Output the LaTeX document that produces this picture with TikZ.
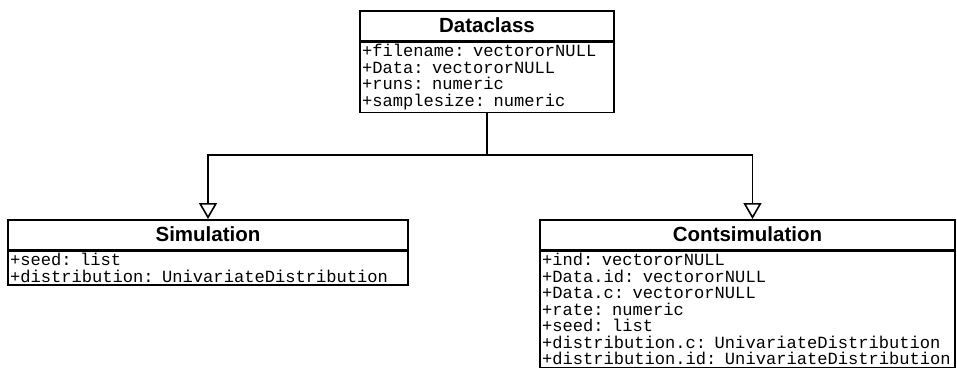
\documentclass[tikz,border=0pt]{standalone}
\usepackage{fontspec}
\usetikzlibrary{arrows.meta}
\newfontfamily\headfont{Liberation Sans}
\newfontfamily\attrfont{Liberation Mono}

\begin{document}
\begin{tikzpicture}[x=1pt, y=1pt, line width=1.6pt,
    class head/.style={draw, anchor=north, minimum height=29.5pt, inner sep=0pt,
        font=\headfont\bfseries\fontsize{20.5}{24}\selectfont},
    class body/.style={draw, anchor=north, align=left, inner xsep=2pt, inner ysep=2.5pt,
        font=\attrfont\fontsize{17.1}{16.5}\selectfont},
    inherits/.style={-{Triangle[open, length=16pt, width=18pt]}, line width=1.6pt}]

    \useasboundingbox (0,0) rectangle (957,-373);

    \node[class head, minimum width=254pt] at (487, -10) (dataclass) {Dataclass};
    \node[class body, text width=250pt] at (dataclass.south) (dataclass-attr)
        {+filename: vectororNULL\\+Data: vectororNULL\\+runs: numeric\\+samplesize: numeric};

    \node[class head, minimum width=400pt] at (208, -219) (sim) {Simulation};
    \node[class body, text width=396pt] at (sim.south) (sim-attr)
        {+seed: list\\+distribution: UnivariateDistribution};

    \node[class head, minimum width=415pt] at (747.5, -219) (cont) {Contsimulation};
    \node[class body, text width=411pt] at (cont.south) (cont-attr)
        {+ind: vectororNULL\\+Data.id: vectororNULL\\+Data.c: vectororNULL\\+rate: numeric\\+seed: list\\+distribution.c: UnivariateDistribution\\+distribution.id: UnivariateDistribution};

    \coordinate (split) at (dataclass-attr.south |- 0,-155);

    \draw[inherits] (dataclass-attr.south) -- (split) -| (sim.north);
    \draw[inherits] (dataclass-attr.south) -- (split) -| ([xshift=5pt]cont.north);
\end{tikzpicture}
\end{document}
